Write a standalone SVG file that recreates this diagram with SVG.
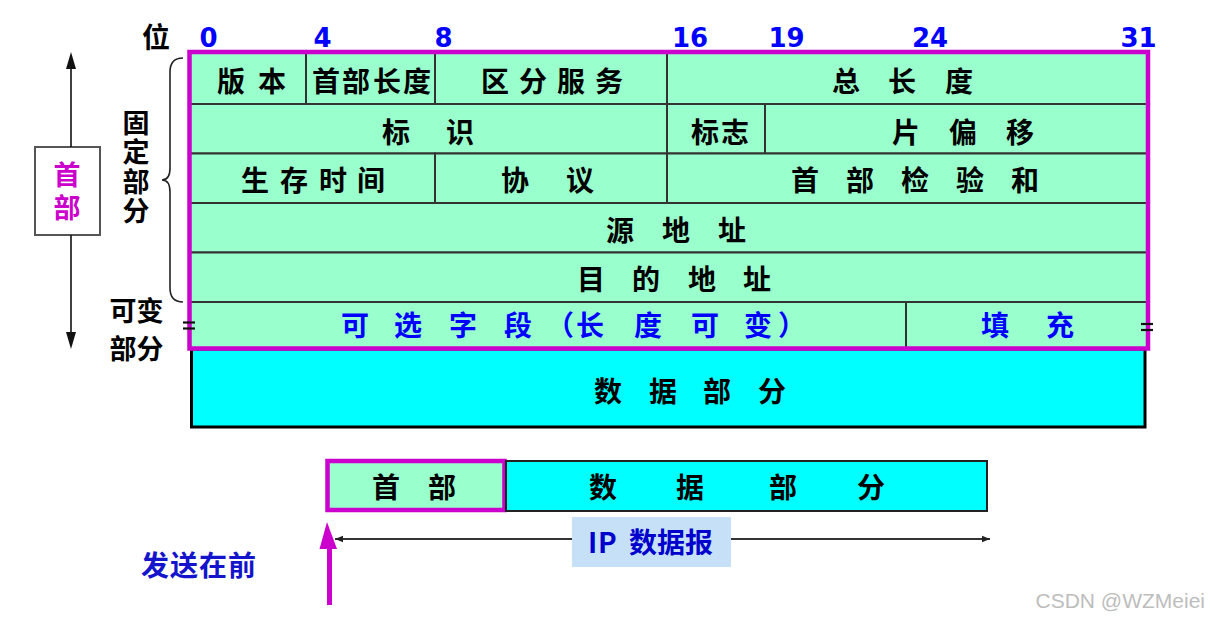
<svg xmlns="http://www.w3.org/2000/svg" width="1210" height="619" viewBox="0 0 1210 619">
<defs>
<style>
.cell{fill:#99FFCC;stroke:#333;stroke-width:2}
.cn{font-family:"Noto Sans CJK SC","Noto Sans CJK JP",sans-serif;font-weight:700;font-size:28px;fill:#000}
.cn27{font-family:"Noto Sans CJK SC","Noto Sans CJK JP",sans-serif;font-weight:700;font-size:27px;fill:#000;text-anchor:middle}
.vt{font-family:"Noto Sans CJK SC","Noto Sans CJK JP",sans-serif;font-weight:700;font-size:27px;writing-mode:vertical-rl}
.blue{fill:#0000FF}
.dblue{fill:#1414CC}
.mag{fill:#CC00CC}
.num{font-family:"DejaVu Sans",sans-serif;font-weight:700;font-size:26px;fill:#0000FF;text-anchor:middle}
.frame{fill:none;stroke:#CC00CC;stroke-width:4.5}
.ln{stroke:#222;stroke-width:1.6;fill:none}
.eq{stroke:#111;stroke-width:2.2}
</style>
<marker id="ah" viewBox="0 0 10 10" refX="10" refY="5" markerWidth="8" markerHeight="8" markerUnits="userSpaceOnUse" orient="auto-start-reverse">
<path d="M0,1 L10,5 L0,9 z" fill="#222"/>
</marker>
</defs>
<rect width="1210" height="619" fill="#fff"/>

<g id="bit-labels">
<text class="cn" x="142" y="48">位</text>
<text class="num" x="208.5" y="47">0</text>
<text class="num" x="322.5" y="47">4</text>
<text class="num" x="443.5" y="47">8</text>
<text class="num" x="690" y="47">16</text>
<text class="num" x="786.5" y="47">19</text>
<text class="num" x="930" y="47">24</text>
<text class="num" x="1138.5" y="47">31</text>
</g>

<g id="f-version"><rect class="cell" x="190" y="52" width="116" height="52"/><text class="cn" x="217 245 258" y="92">版 本</text></g>
<g id="f-ihl"><rect class="cell" x="306" y="52" width="129" height="52"/><text class="cn" x="312 342 373 403" y="92">首部长度</text></g>
<g id="f-ds"><rect class="cell" x="435" y="52" width="232" height="52"/><text class="cn" x="481 509 519 547 557 585 595" y="92">区 分 服 务</text></g>
<g id="f-totlen"><rect class="cell" x="667" y="52" width="481" height="52"/><text class="cn" x="832 860 888 916 945" y="92">总 长 度</text></g>

<g id="f-ident"><rect class="cell" x="190" y="104" width="477" height="49.5"/><text class="cn" x="382 414 446" y="143">标 识</text></g>
<g id="f-flags"><rect class="cell" x="667" y="104" width="98" height="49.5"/><text class="cn" x="691 721" y="143">标志</text></g>
<g id="f-frag"><rect class="cell" x="765" y="104" width="383" height="49.5"/><text class="cn" x="892 920 949 977 1006" y="143">片 偏 移</text></g>

<g id="f-ttl"><rect class="cell" x="190" y="153.5" width="245" height="49.5"/><text class="cn" x="241 269 280 308 319 347 357" y="191">生 存 时 间</text></g>
<g id="f-proto"><rect class="cell" x="435" y="153.5" width="232" height="49.5"/><text class="cn" x="501 533 566" y="191">协 议</text></g>
<g id="f-cksum"><rect class="cell" x="667" y="153.5" width="481" height="49.5"/><text class="cn" x="791 819 846 874 901 929 956 984 1011" y="191">首 部 检 验 和</text></g>

<g id="f-src"><rect class="cell" x="190" y="203" width="958" height="49.5"/><text class="cn" x="606 634 662 690 718" y="240.5">源 地 址</text></g>
<g id="f-dst"><rect class="cell" x="190" y="252.5" width="958" height="49.5"/><text class="cn" x="577 605 632 660 688 716 743" y="290">目 的 地 址</text></g>

<g id="f-options"><rect class="cell" x="190" y="302" width="716" height="46"/><text class="cn blue" x="341 369 394 422 449 477 504 532 546 576 604 634 662 691 719 744 778" y="335.5">可 选 字 段 （长 度 可 变）</text></g>
<g id="f-padding"><rect class="cell" x="906" y="302" width="242" height="46"/><text class="cn blue" x="981 1013 1046" y="335.5">填 充</text></g>

<g id="data-part"><rect x="191.5" y="349" width="953.5" height="78" fill="#00FFFF" stroke="#000" stroke-width="3"/><text class="cn" x="594 621 649 676 703 731 758" y="402">数 据 部 分</text></g>

<g id="header-frame"><rect class="frame" x="189.5" y="52" width="958.5" height="296.5"/></g>

<g id="marks">
<line class="eq" x1="183" y1="322.5" x2="195" y2="322.5"/>
<line class="eq" x1="183" y1="328.5" x2="195" y2="328.5"/>
<line class="eq" x1="1141" y1="324" x2="1153" y2="324"/>
<line class="eq" x1="1141" y1="330" x2="1153" y2="330"/>
</g>

<g id="label-fixed">
<path class="ln" d="M183,58 Q170,58 170,72 L170,168 Q170,180 162,180 Q170,180 170,192 L170,288 Q170,302 183,302"/>
<text class="vt" fill="#000" letter-spacing="2.5" x="136" y="109">固定部分</text>
</g>
<g id="label-variable">
<text class="cn27" x="136.5" y="321">可变</text>
<text class="cn27" x="136.5" y="359">部分</text>
</g>

<g id="header-box">
<rect x="35" y="147" width="65" height="88" fill="#fff" stroke="#555" stroke-width="2"/>
<text class="vt" fill="#CC00CC" letter-spacing="6.5" x="67" y="161">首部</text>
</g>

<g id="dg-header"><rect x="327.5" y="461" width="177" height="49" fill="#99FFCC" stroke="#CC00CC" stroke-width="4.5"/><text class="cn" x="372 400 428" y="498">首 部</text></g>
<g id="dg-data"><rect x="506" y="461" width="481" height="50" fill="#00FFFF" stroke="#222" stroke-width="2"/><text class="cn" x="589 632 676 722 769 813 857" y="498">数 据 部 分</text></g>

<g id="connectors">
<line x1="71" y1="66" x2="71" y2="147" stroke="#111" stroke-width="1.6"/>
<polygon points="71,52 66,69 76,69" fill="#111"/>
<line x1="71" y1="235" x2="71" y2="335" stroke="#111" stroke-width="1.6"/>
<polygon points="71,349 66,332 76,332" fill="#111"/>
<line x1="335" y1="539" x2="990" y2="539" stroke="#333" stroke-width="1.8" marker-start="url(#ah)" marker-end="url(#ah)"/>
<rect x="327" y="546" width="5" height="59" fill="#CC00CC"/>
<polygon points="327,522 319.5,549 337,549" fill="#CC00CC"/>
</g>

<g id="ip-label"><rect x="572" y="517" width="159" height="50" fill="#C5E0F7"/><text class="cn" style="fill:#0000CC" x="588 598 615 629 657 685" y="553">IP 数据报</text></g>

<g id="send-first"><text class="cn dblue" x="141 170 199 228" y="575.5">发送在前</text></g>

<g id="watermark"><text x="1205" y="608" font-family="Liberation Sans, sans-serif" font-size="21" fill="#bdbdbd" text-anchor="end">CSDN @WZMeiei</text></g>
</svg>
